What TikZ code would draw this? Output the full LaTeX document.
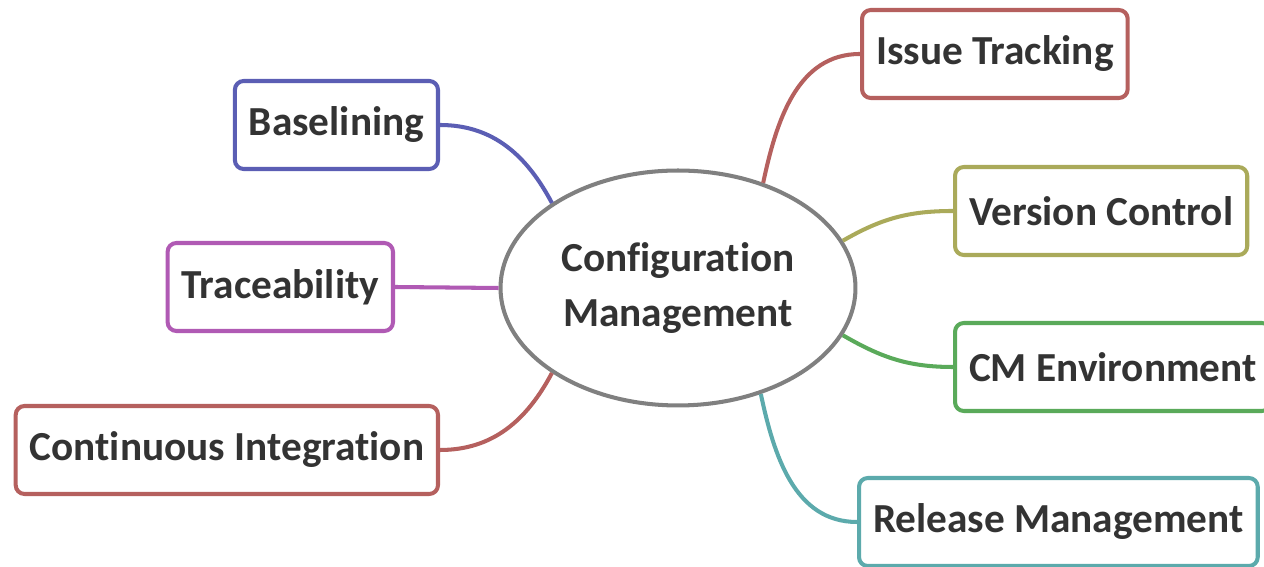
\documentclass[tikz,border=0pt]{standalone}
\usepackage{fontspec}
\setmainfont{Carlito}[Ligatures={NoCommon}]
\usetikzlibrary{shapes.geometric}

\definecolor{txt}{RGB}{51,51,51}
\definecolor{hubgray}{RGB}{128,128,128}
\definecolor{cmblue}{RGB}{91,94,180}
\definecolor{cmred}{RGB}{181,96,94}
\definecolor{cmolive}{RGB}{170,170,90}
\definecolor{cmpurple}{RGB}{176,90,180}
\definecolor{cmgreen}{RGB}{90,170,90}
\definecolor{cmteal}{RGB}{92,170,172}

\tikzset{
  topic/.style={draw=#1, line width=2.3pt, rounded corners=5pt, fill=white,
    text=txt, font=\fontsize{23.5}{28}\selectfont\bfseries,
    inner xsep=0.28cm, minimum height=1.76cm},
  hub/.style={ellipse, draw=hubgray, line width=2.3pt, fill=white,
    text=txt, font=\fontsize{23.5}{31}\selectfont\bfseries, align=center,
    minimum width=7.1cm, minimum height=4.7cm},
  branch/.style={draw=#1, line width=2.3pt}
}

\begin{document}
\begin{tikzpicture}[x=0.02cm,y=0.02cm]
 \useasboundingbox (0,0) rectangle (1264,567);

 % centre topic, then the seven branches round it
 \coordinate (c) at (678,279);
 \node[hub] (cm) at (c) {Configuration\\Management};

 \node[topic=cmblue, anchor=east] (base) at (440,442) {Baselining};
 \node[topic=cmpurple, anchor=east] (trace) at (395,280) {Traceability};
 \node[topic=cmred, anchor=east] (ci) at (440,117) {Continuous Integration};
 \node[topic=cmred, anchor=west] (issue) at (860,513) {Issue Tracking};
 \node[topic=cmolive, anchor=west] (vc) at (953,356) {Version Control};
 \node[topic=cmgreen, anchor=west] (env) at (953,200) {CM Environment};
 \node[topic=cmteal, anchor=west] (rel) at (857,45) {Release Management};

 \draw[branch=cmblue] (base.east) to[out=0,in=118] (cm.146);
 \draw[branch=cmpurple] (trace.east) -- (cm.west);
 \draw[branch=cmred] (ci.east) to[out=0,in=-118] (cm.-146);
 \draw[branch=cmred] (cm.51) to[out=78,in=180] (issue.west);
 \draw[branch=cmolive] (cm.16) to[out=30,in=180] (vc.west);
 \draw[branch=cmgreen] (cm.-16) to[out=-30,in=180] (env.west);
 \draw[branch=cmteal] (cm.-52) to[out=-78,in=180] (rel.west);
\end{tikzpicture}
\end{document}
